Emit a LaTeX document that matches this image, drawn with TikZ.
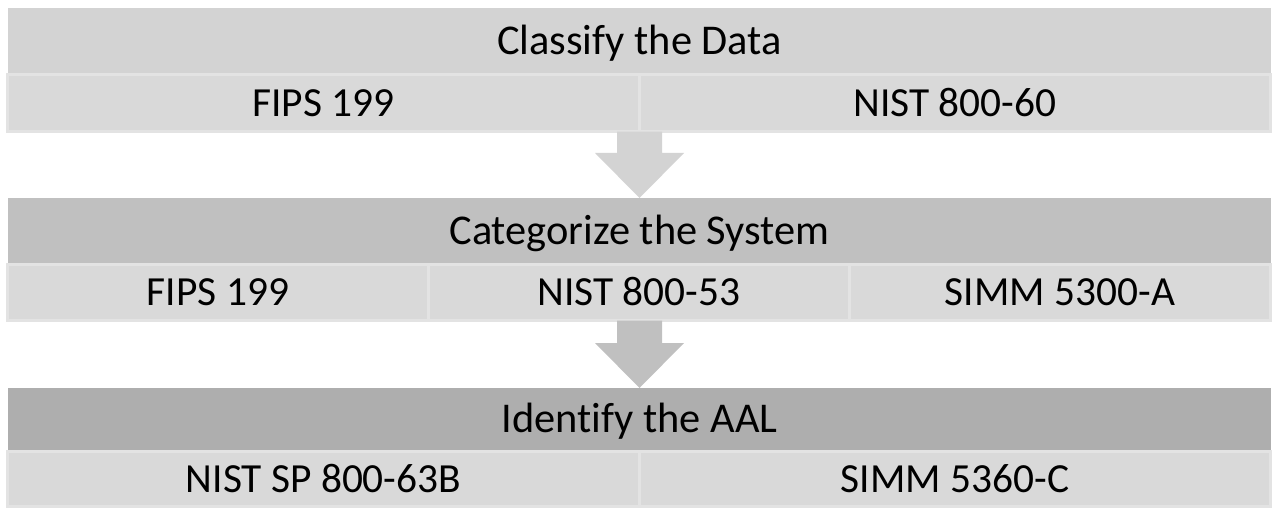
\documentclass[tikz,border=0pt]{standalone}
\usepackage{fontspec}
\setmainfont{Carlito}[Ligatures=NoCommon]
\usetikzlibrary{calc,positioning}
\definecolor{HeadOne}{RGB}{211,211,211}
\definecolor{HeadTwo}{RGB}{192,192,192}
\definecolor{HeadThree}{RGB}{174,174,174}
\definecolor{CellGray}{RGB}{217,217,217}
\definecolor{CellLine}{RGB}{227,227,227}
\newcommand{\blockarrow}[3]{%
  \fill[#3] ($(#1)+(-22.5,0)$)--($(#1)+(22.5,0)$)--($(#2)+(22.5,-45)$)--($(#2)+(44.5,-45)$)
    --(#2)--($(#2)+(-44.5,-45)$)--($(#2)+(-22.5,-45)$)--cycle;}
\tikzset{
  stagehead/.style={minimum width=1263pt,minimum height=#1,inner sep=0pt,outer sep=0pt,
    font=\fontsize{42.4pt}{50pt}\selectfont,text height=27.3pt,text depth=0pt},
  refcell/.style={draw=CellLine,line width=2.7pt,fill=CellGray,minimum height=#1,
    inner sep=0pt,outer sep=0pt,font=\fontsize{41.4pt}{50pt}\selectfont,
    text height=26.7pt,text depth=0pt}
}

\begin{document}
\begin{tikzpicture}[x=1pt,y=-1pt]
  \useasboundingbox (0,0) rectangle (1272,508);
  % stage 1
  \node[stagehead=65pt,fill=HeadOne] (cls) at (639.5,40.5) {Classify the Data};
  \node[refcell=57.2pt,minimum width=632pt] (fipsa) at (323.5,103) {FIPS 199};
  \node[refcell=57.2pt,minimum width=631pt] (nista) at (955,103) {NIST 800-60};
  % stage 2
  \node[stagehead=65pt,fill=HeadTwo] (cat) at (639.5,230.5) {Categorize the System};
  \node[refcell=56.2pt,minimum width=421pt] (fipsb) at (218,292.5) {FIPS 199};
  \node[refcell=56.2pt,minimum width=421pt] (nistb) at (639,292.5) {NIST 800-53};
  \node[refcell=56.2pt,minimum width=421pt] (simmb) at (1060,292.5) {SIMM 5300-A};
  % stage 3
  \node[stagehead=62pt,fill=HeadThree] (aal) at (639.5,419) {Identify the AAL};
  \node[refcell=55.2pt,minimum width=632pt] (nistc) at (323.5,479) {NIST SP 800-63B};
  \node[refcell=55.2pt,minimum width=631pt] (simmc) at (955,479) {SIMM 5360-C};
  % arrows
  \coordinate (outa) at (cls |- fipsa.south);
  \coordinate (outb) at (cat |- nistb.south);
  \blockarrow{outa}{cat.north}{HeadOne}
  \blockarrow{outb}{aal.north}{HeadTwo}
\end{tikzpicture}
\end{document}
